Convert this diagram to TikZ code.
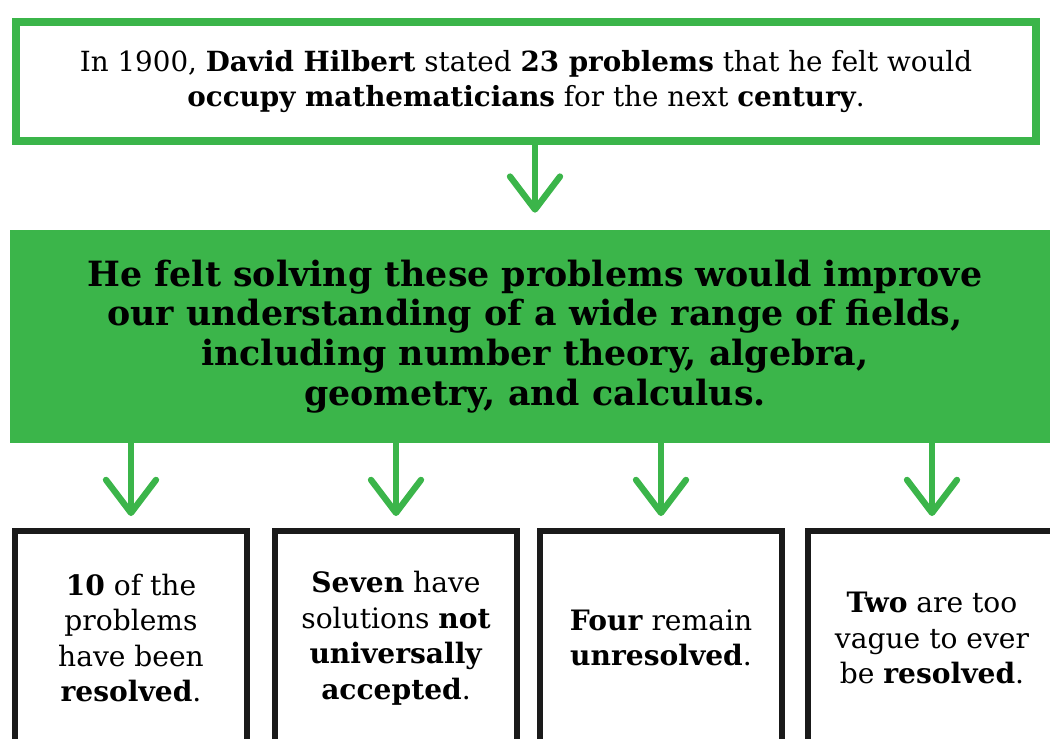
\documentclass[tikz,border=0pt]{standalone}
\usepackage{fontspec}
\setmainfont{DejaVu Serif}
\usepackage{xcolor}
\usetikzlibrary{arrows.meta, positioning}
\definecolor{hilgreen}{HTML}{3BB54A}
\definecolor{inkblack}{HTML}{1A1A1A}

\begin{document}
\begin{tikzpicture}[
        x=0.02cm, y=-0.02cm,
        introbox/.style={rectangle, draw=hilgreen, line width=4.5pt, fill=white, minimum width=20.4cm, minimum height=2.38cm, align=center, font=\fontsize{15.8}{19.8}\selectfont},
        bandbox/.style={rectangle, fill=hilgreen, minimum width=21cm, minimum height=4.26cm, align=center, font=\bfseries\fontsize{19.8}{22.7}\selectfont},
        resultbox/.style={rectangle, draw=inkblack, line width=3.4pt, fill=white, minimum height=4.28cm, align=center, font=\fontsize{16}{20.2}\selectfont},
        flowarrow/.style={-{Straight Barb[length=0.66cm, width=1cm, round]}, line width=3.6pt, color=hilgreen, line cap=round}
    ]
        \useasboundingbox (0,0) rectangle (1050,738);
        \clip (0,0) rectangle (1050,738);

        % Top box
        \node[introbox] (intro) at (526, 81.5) {In 1900, \textbf{David Hilbert} stated \textbf{23 problems} that he felt would\\ \textbf{occupy mathematicians} for the next \textbf{century}.};

        % Green band
        \node[bandbox] (band) at (535, 336.5) {He felt solving these problems would improve\\ our understanding of a wide range of fields,\\ including number theory, algebra,\\ geometry, and calculus.};

        % Result boxes
        \node[resultbox, minimum width=4.64cm] (b1) at (131, 638) {\textbf{10} of the\\ problems\\ have been\\ \textbf{resolved}.};
        \node[resultbox, minimum width=4.84cm] (b2) at (396, 638) {\textbf{Seven} have\\ solutions \textbf{not}\\ \textbf{universally}\\ \textbf{accepted}.};
        \node[resultbox, minimum width=4.84cm] (b3) at (661, 638) {\textbf{Four} remain\\ \textbf{unresolved}.};
        \node[resultbox, minimum width=4.96cm] (b4) at (932, 638) {\textbf{Two} are too\\ vague to ever\\ be \textbf{resolved}.};

        % Arrows
        \draw[flowarrow, shorten >=0.34cm] (intro.south -| band.north) -- (band.north);
        \draw[flowarrow, shorten >=0.24cm] (band.south -| b1.north) -- (b1.north);
        \draw[flowarrow, shorten >=0.24cm] (band.south -| b2.north) -- (b2.north);
        \draw[flowarrow, shorten >=0.24cm] (band.south -| b3.north) -- (b3.north);
        \draw[flowarrow, shorten >=0.24cm] (band.south -| b4.north) -- (b4.north);
    \end{tikzpicture}
\end{document}
